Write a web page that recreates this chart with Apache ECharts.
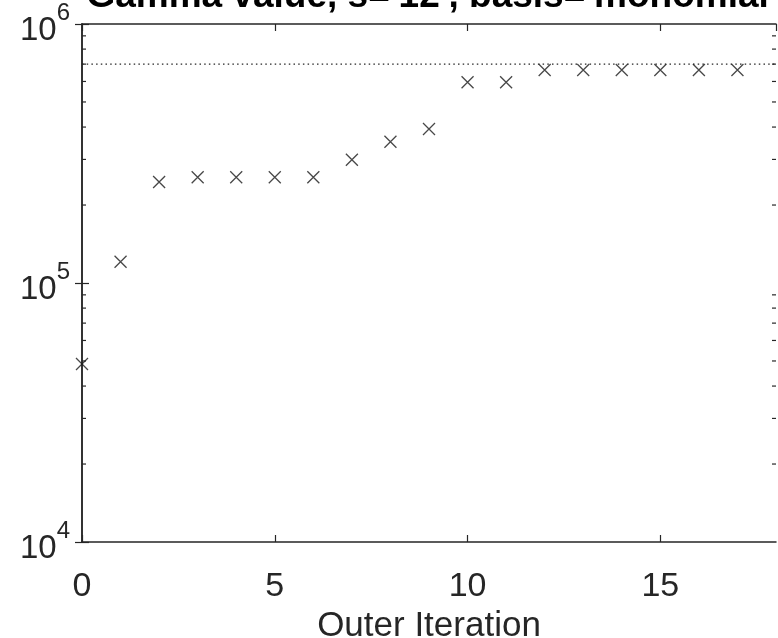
<!DOCTYPE html>
<html>
<head>
<meta charset="utf-8">
<script src="https://cdn.jsdelivr.net/npm/echarts@6/dist/echarts.min.js"></script>
<style>
  html, body { margin: 0; padding: 0; background: #fff; }
  #chart { width: 778px; height: 638px; }
</style>
</head>
<body>
<div id="chart"></div>
<script>
// Outer iteration index and the gamma value reached at each iteration
const iterations = [0, 1, 2, 3, 4, 5, 6, 7, 8, 9, 10, 11, 12, 13, 14, 15, 16, 17];
const gammaValues = [48700, 120800, 245500, 256000, 256000, 256000, 256000, 299000,
                     351000, 393000, 596000, 596000, 664000, 664000, 664000, 664000, 664000, 664000];
// Reference level drawn as a dotted horizontal line
const gammaLimit = 700000;
const limitSpan = [0, 18];

// Axis ticks
const xTicks = [0, 5, 10, 15];
const yDecades = [1e4, 1e5, 1e6];
const yMinorTicks = [];
for (let d = 1e4; d < 1e6; d *= 10) {
  for (let m = 2; m <= 9; m++) yMinorTicks.push(m * d);
}

const titleText = "Gamma value, s='12', basis='monomial'";
const xLabel = 'Outer Iteration';

const ink = '#262626';
const font = "'Liberation Sans', Arial, Helvetica, sans-serif";

const chart = echarts.init(document.getElementById('chart'));

const commonY = {
  type: 'log',
  logBase: 10,
  min: yDecades[0],
  max: yDecades[yDecades.length - 1],
  axisLine: { show: true, lineStyle: { color: ink, width: 1.5 } },
  axisTick: { show: true, inside: true, length: 7, lineStyle: { color: ink, width: 1.2 } },
  splitLine: { show: false },
  minorTick: { show: false },
  minorSplitLine: { show: false }
};

const commonX = {
  type: 'value',
  min: 0,
  max: 18,
  interval: 5,
  axisLine: { show: true, onZero: false, lineStyle: { color: ink, width: 1.5 } },
  axisTick: { show: true, inside: true, length: 7, lineStyle: { color: ink, width: 1.2 } },
  splitLine: { show: false }
};

chart.setOption({
  animation: false,
  backgroundColor: '#fff',
  title: {
    text: titleText,
    left: 432,
    textAlign: 'center',
    top: -22,
    padding: 0,
    textStyle: { fontFamily: font, fontSize: 37, fontWeight: 'bold', color: '#000' }
  },
  grid: { left: 82, right: 2, top: 24, bottom: 96, containLabel: false, outerBoundsMode: 'none' },
  xAxis: [
    Object.assign({}, commonX, {
      position: 'bottom',
      name: xLabel,
      nameLocation: 'middle',
      nameGap: 62,
      nameTextStyle: { fontFamily: font, fontSize: 35, color: ink },
      axisLabel: {
        show: true, margin: 28, showMaxLabel: false,
        fontFamily: font, fontSize: 34, color: ink,
        formatter: function (v) { return xTicks.indexOf(v) >= 0 ? String(v) : ''; }
      }
    }),
    Object.assign({}, commonX, {
      position: 'top',
      axisLabel: { show: false }
    })
  ],
  yAxis: [
    Object.assign({}, commonY, {
      position: 'left',
      axisLabel: {
        show: true, margin: 12,
        formatter: function (v) {
          const e = Math.round(Math.log10(v));
          return '{b|10}{s|' + e + '}';
        },
        rich: {
          b: { fontFamily: font, fontSize: 33, lineHeight: 33, color: ink, verticalAlign: 'bottom' },
          s: { fontFamily: font, fontSize: 24, lineHeight: 46, color: ink, verticalAlign: 'top' }
        }
      }
    }),
    Object.assign({}, commonY, {
      position: 'right',
      axisLabel: { show: false }
    })
  ],
  series: [
    {
      name: 'limit',
      type: 'line',
      xAxisIndex: 0,
      yAxisIndex: 0,
      data: limitSpan.map(function (x) { return [x, gammaLimit]; }),
      showSymbol: false,
      symbol: 'none',
      lineStyle: { color: ink, width: 1.3, type: [1.5, 3.2] },
      silent: true
    },
    {
      name: 'gamma',
      type: 'scatter',
      xAxisIndex: 0,
      yAxisIndex: 0,
      data: iterations.map(function (x, i) { return [x, gammaValues[i]]; }),
      symbol: 'path://M0,0L10,10M10,0L0,10',
      symbolSize: 12,
      clip: false,
      itemStyle: { color: 'rgba(0,0,0,0)', borderColor: '#1a1a1a', borderWidth: 1.3 }
    },
    {
      name: 'minorTicks',
      type: 'custom',
      xAxisIndex: 0,
      yAxisIndex: 0,
      silent: true,
      clip: false,
      data: yMinorTicks.map(function (v) { return [0, v]; }),
      renderItem: function (params, api) {
        const v = api.value(1);
        const l = api.coord([0, v]);
        const r = api.coord([18, v]);
        return {
          type: 'group',
          children: [
            { type: 'line', shape: { x1: l[0], y1: l[1], x2: l[0] + 4, y2: l[1] },
              style: { stroke: ink, lineWidth: 1.2 } },
            { type: 'line', shape: { x1: r[0] - 4, y1: r[1], x2: r[0], y2: r[1] },
              style: { stroke: ink, lineWidth: 1.2 } }
          ]
        };
      }
    }
  ]
});
</script>
</body>
</html>
